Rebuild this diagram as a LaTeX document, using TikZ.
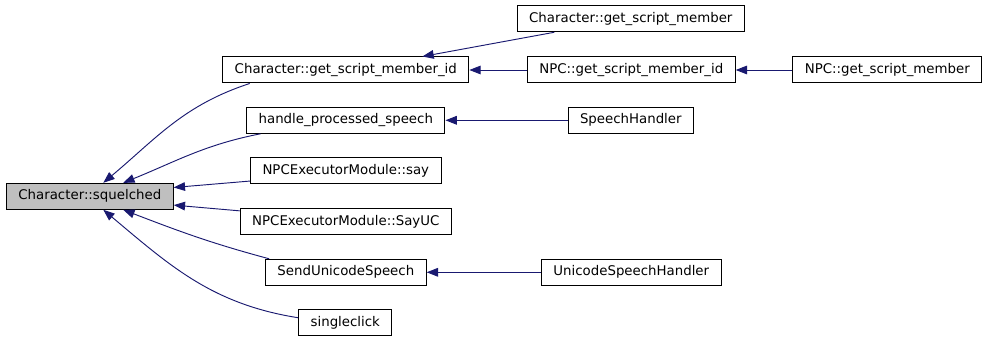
\documentclass[tikz,border=0pt]{standalone}
\usepackage{fontspec}
\newfontfamily\dejavu{DejaVu Sans}
\usetikzlibrary{arrows.meta}
\definecolor{edgeblue}{HTML}{191970}
\definecolor{focusgray}{HTML}{BFBFBF}

\begin{document}
\begin{tikzpicture}[
    x=0.75pt, y=-0.75pt,
    fn/.style={rectangle, draw=black, line width=0.75pt, minimum height=19.5pt, inner xsep=9pt, inner ysep=0pt, font=\dejavu\fontsize{10}{12}\selectfont},
    focus/.style={fn, fill=focusgray},
    arr/.style={-{Triangle[length=8.5pt, width=6.5pt]}, draw=edgeblue, line width=0.7pt},
  ]
    \useasboundingbox (0,0) rectangle (987,341);

    % Function whose callers are shown
    \node[focus] (sq) at (89.8,196.3) {Character::squelched};

    % Direct callers
    \node[fn] (csmi) at (345.8,70) {Character::get\_script\_member\_id};
    \node[fn] (hps) at (345.8,120.3) {handle\_processed\_speech};
    \node[fn] (say) at (345.8,171) {NPCExecutorModule::say};
    \node[fn] (sayuc) at (345.8,222) {NPCExecutorModule::SayUC};
    \node[fn] (sus) at (345.8,272.3) {SendUnicodeSpeech};
    \node[fn] (sc) at (345.3,322.7) {singleclick};

    \draw[arr] (csmi.188) to[out=198, in=40] (sq.45);
    \draw[arr] (hps.189) to[out=191, in=22] (sq.22);
    \draw[arr] (say.186) -- (sq.6);
    \draw[arr] (sayuc.174) -- (sq.-6);
    \draw[arr] (sus.170) to[out=165, in=-21] (sq.-22);
    \draw[arr] (sc.174) to[out=171, in=-40] (sq.-45);

    % Callers further up
    \node[fn] (cgsm) at (630.8,18.8) {Character::get\_script\_member};
    \node[fn] (npcid) at (631.3,70) {NPC::get\_script\_member\_id};
    \node[fn] (npcm) at (887.3,70) {NPC::get\_script\_member};
    \node[fn] (sh) at (630.8,120.3) {SpeechHandler};
    \node[fn] (ush) at (631.3,272.3) {UnicodeSpeechHandler};

    \draw[arr] (cgsm.190) -- (csmi.10);
    \draw[arr] (npcid.west) -- (csmi.east);
    \draw[arr] (npcm.west) -- (npcid.east);
    \draw[arr] (sh.west) -- (hps.east);
    \draw[arr] (ush.west) -- (sus.east);
  \end{tikzpicture}
\end{document}
